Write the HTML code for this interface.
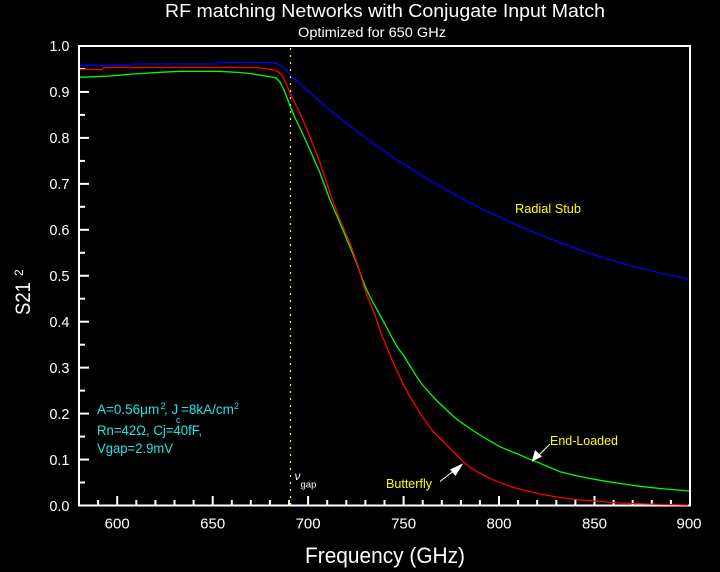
<!DOCTYPE html>
<html><head><meta charset="utf-8"><style>
html,body{margin:0;padding:0;background:#000;}
svg{display:block;}
text{font-family:"Liberation Sans",Arial,sans-serif;}
</style></head><body>
<svg width="720" height="572" viewBox="0 0 720 572" xmlns="http://www.w3.org/2000/svg">
<rect x="0" y="0" width="720" height="572" fill="#000"/>
<!-- titles -->
<text x="165" y="17" font-size="18" fill="#fff" textLength="440" lengthAdjust="spacingAndGlyphs">RF matching Networks with Conjugate Input Match</text>
<text x="298" y="37" font-size="13.5" fill="#fff" textLength="148" lengthAdjust="spacingAndGlyphs">Optimized for 650 GHz</text>
<text x="305" y="563" font-size="22" fill="#fff" textLength="160" lengthAdjust="spacingAndGlyphs">Frequency (GHz)</text>
<text transform="translate(30,315) rotate(-90)" font-size="21" fill="#fff" textLength="33" lengthAdjust="spacingAndGlyphs">S21</text>
<text transform="translate(23,276) rotate(-90)" font-size="12" fill="#fff">2</text>

<!-- frame -->
<rect x="79" y="46" width="611" height="459.5" fill="none" stroke="#fff" stroke-width="2"/>

<!-- y ticks -->
<g stroke="#fff" stroke-width="2">
<line x1="80" y1="459.55" x2="89" y2="459.55"/>
<line x1="80" y1="413.6" x2="89" y2="413.6"/>
<line x1="80" y1="367.65" x2="89" y2="367.65"/>
<line x1="80" y1="321.7" x2="89" y2="321.7"/>
<line x1="80" y1="275.75" x2="89" y2="275.75"/>
<line x1="80" y1="229.8" x2="89" y2="229.8"/>
<line x1="80" y1="183.85" x2="89" y2="183.85"/>
<line x1="80" y1="137.9" x2="89" y2="137.9"/>
<line x1="80" y1="91.95" x2="89" y2="91.95"/>
<line x1="80" y1="482.5" x2="85" y2="482.5"/>
<line x1="80" y1="436.6" x2="85" y2="436.6"/>
<line x1="80" y1="390.6" x2="85" y2="390.6"/>
<line x1="80" y1="344.7" x2="85" y2="344.7"/>
<line x1="80" y1="298.7" x2="85" y2="298.7"/>
<line x1="80" y1="252.8" x2="85" y2="252.8"/>
<line x1="80" y1="206.8" x2="85" y2="206.8"/>
<line x1="80" y1="160.9" x2="85" y2="160.9"/>
<line x1="80" y1="114.9" x2="85" y2="114.9"/>
<line x1="80" y1="69" x2="85" y2="69"/>
</g>
<!-- x ticks -->
<g stroke="#fff" stroke-width="2">
<line x1="117.2" y1="505" x2="117.2" y2="496"/>
<line x1="212.7" y1="505" x2="212.7" y2="496"/>
<line x1="308.1" y1="505" x2="308.1" y2="496"/>
<line x1="403.6" y1="505" x2="403.6" y2="496"/>
<line x1="499" y1="505" x2="499" y2="496"/>
<line x1="594.5" y1="505" x2="594.5" y2="496"/>
<line x1="98.1" y1="505" x2="98.1" y2="500"/>
<line x1="136.3" y1="505" x2="136.3" y2="500"/>
<line x1="155.4" y1="505" x2="155.4" y2="500"/>
<line x1="174.5" y1="505" x2="174.5" y2="500"/>
<line x1="193.6" y1="505" x2="193.6" y2="500"/>
<line x1="231.8" y1="505" x2="231.8" y2="500"/>
<line x1="250.8" y1="505" x2="250.8" y2="500"/>
<line x1="269.9" y1="505" x2="269.9" y2="500"/>
<line x1="289" y1="505" x2="289" y2="500"/>
<line x1="327.2" y1="505" x2="327.2" y2="500"/>
<line x1="346.3" y1="505" x2="346.3" y2="500"/>
<line x1="365.4" y1="505" x2="365.4" y2="500"/>
<line x1="384.5" y1="505" x2="384.5" y2="500"/>
<line x1="422.7" y1="505" x2="422.7" y2="500"/>
<line x1="441.8" y1="505" x2="441.8" y2="500"/>
<line x1="460.9" y1="505" x2="460.9" y2="500"/>
<line x1="479.9" y1="505" x2="479.9" y2="500"/>
<line x1="518.1" y1="505" x2="518.1" y2="500"/>
<line x1="537.2" y1="505" x2="537.2" y2="500"/>
<line x1="556.3" y1="505" x2="556.3" y2="500"/>
<line x1="575.4" y1="505" x2="575.4" y2="500"/>
<line x1="613.6" y1="505" x2="613.6" y2="500"/>
<line x1="632.7" y1="505" x2="632.7" y2="500"/>
<line x1="651.8" y1="505" x2="651.8" y2="500"/>
<line x1="670.9" y1="505" x2="670.9" y2="500"/>
</g>

<!-- y labels -->
<g font-size="14.5" fill="#fff" text-anchor="end">
<text x="69.5" y="51">1.0</text>
<text x="69.5" y="97">0.9</text>
<text x="69.5" y="143">0.8</text>
<text x="69.5" y="189">0.7</text>
<text x="69.5" y="235">0.6</text>
<text x="69.5" y="281">0.5</text>
<text x="69.5" y="327">0.4</text>
<text x="69.5" y="373">0.3</text>
<text x="69.5" y="419">0.2</text>
<text x="69.5" y="465">0.1</text>
<text x="69.5" y="511">0.0</text>
</g>
<!-- x labels -->
<g font-size="15" fill="#fff" text-anchor="middle">
<text x="117.2" y="528.5">600</text>
<text x="212.7" y="528.5">650</text>
<text x="308.1" y="528.5">700</text>
<text x="403.6" y="528.5">750</text>
<text x="499" y="528.5">800</text>
<text x="594.5" y="528.5">850</text>
<text x="689" y="528.5">900</text>
</g>

<!-- gap line -->
<line x1="290.5" y1="48" x2="290.5" y2="505" stroke="#ffff00" stroke-width="1.2" stroke-dasharray="2 5"/>
<text x="294.5" y="480" font-size="12" font-style="italic" fill="#fff">ν</text>
<text x="300.5" y="487.5" font-size="9.5" fill="#fff">gap</text>

<!-- curves -->
<g fill="none" stroke-width="1.3" stroke-linejoin="round">
<polyline stroke="#0000ff" points="80,65.3 131,65.3 132,64 217,64 218,62.5 271,62.5 276,63.5 280,65 284,68 290,75 300,83.5 310,92.5 320,101.5 330,110 340,118 350,126 360,133.5 370,141 380,148 390,155 400,161.7 410,168 420,174.3 430,180.3 440,186.3 450,192 460,197.5 470,202.8 480,208 490,212.7 500,217.3 510,222 520,226.5 540,234.8 560,242.5 580,250 600,256.8 620,262.8 640,268.3 665,274 689,279"/>
<polyline stroke="#00ff00" points="80,77.3 110,76 133,74 160,72.3 180,71.3 218,71.3 240,72.5 250,73.5 262,75.5 272,77 276,78 280,82 284,90 290,105.5 295,118 300,128 310,150 320,173 330,200 340,223 350,247 355,259 362,278 366.7,290 373,302.5 380,315 387,328 393.3,340 398,348 403.3,355 410,366 416.7,376.7 423,385.5 430,393.3 438,402 446.7,410 453,416 460,421.7 470,428.5 480,435 490,441 500,446.7 510,451 520,455 530,459.3 540,463.3 550,467.5 560,471.7 580,476.5 600,480.3 620,483.5 640,486.3 660,488.5 689,491"/>
<polyline stroke="#ff0000" points="80,69.5 102,69.5 104,67.5 255,67.5 265,68.5 272,69.5 278,71.5 282,75 286,83 290,93 300,113 310,137 320,163 330,193 340,220 350,243 358,266 365,290 371,305 376.7,320 381,333 386.7,346.7 391,357.5 396.7,370 403,384 410,396.7 415,405 420,413.3 427,423 433.3,431.7 440,438.5 446.7,445 455,453.5 463.3,461.7 470,467 476.7,471.7 488,477.5 500,482.7 512,487 523.3,490 540,494 560,497.5 580,500 600,501.5 620,503 647,504 688,505"/>
</g>

<!-- series labels -->
<g font-size="13" fill="#ffff00">
<text x="515" y="213" textLength="66" lengthAdjust="spacingAndGlyphs">Radial Stub</text>
<text x="550" y="445" textLength="68" lengthAdjust="spacingAndGlyphs">End-Loaded</text>
<text x="386" y="488" textLength="46" lengthAdjust="spacingAndGlyphs">Butterfly</text>
</g>
<!-- arrows -->
<g stroke="#fff" stroke-width="1" fill="#fff">
<line x1="440" y1="481.5" x2="454" y2="470.5"/>
<polygon points="463.3,463.3 450,469.5 455.5,476" stroke="none"/>
<line x1="550" y1="444" x2="539" y2="455"/>
<polygon points="531.7,461.7 535,450 542,456.5" stroke="none"/>
</g>

<!-- annotation -->
<g fill="#1ee6e6">
<text x="97" y="414" font-size="13.5">A=0.56μm</text>
<text x="160.5" y="409" font-size="9">2</text>
<text x="164" y="414" font-size="13.5">, J</text>
<text x="176" y="423" font-size="9">c</text>
<text x="181" y="414" font-size="13.5">=8kA/cm</text>
<text x="234" y="409" font-size="9">2</text>
<text x="97" y="435" font-size="13.5" textLength="105" lengthAdjust="spacingAndGlyphs">Rn=42Ω, Cj=40fF,</text>
<text x="97" y="453" font-size="13.5" textLength="76" lengthAdjust="spacingAndGlyphs">Vgap=2.9mV</text>
</g>
</svg>
</body></html>
